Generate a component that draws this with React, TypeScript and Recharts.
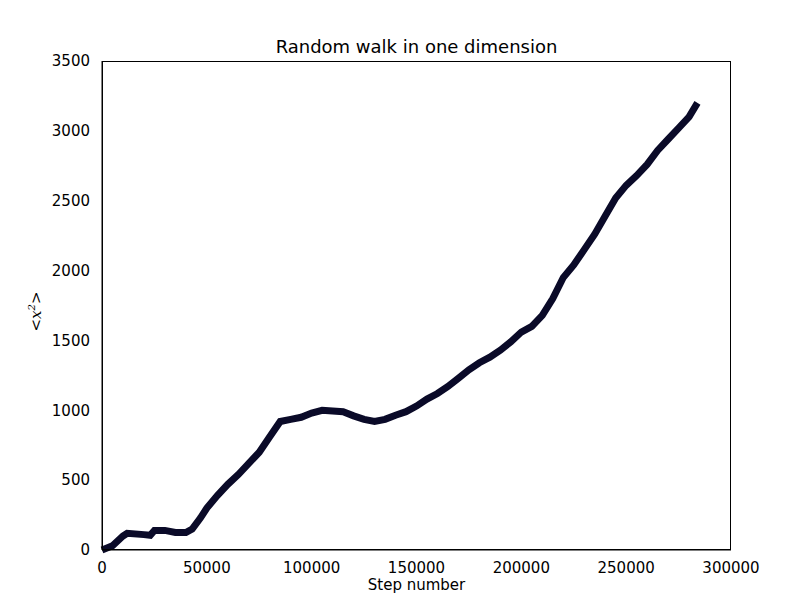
import { LineChart, Line, XAxis, YAxis } from "recharts";

const steps = [0, 5000, 10000, 12000, 20000, 23000, 25000, 30000, 35000, 40000, 43000, 47000, 50000, 55000, 60000, 65000, 70000, 75000, 80000, 85000, 90000, 95000, 100000, 105000, 110000, 115000, 120000, 125000, 130000, 135000, 140000, 145000, 150000, 155000, 160000, 165000, 170000, 175000, 180000, 185000, 190000, 195000, 200000, 205000, 210000, 215000, 220000, 225000, 230000, 235000, 240000, 245000, 250000, 255000, 260000, 265000, 270000, 275000, 280000, 284000];
const meanSq = [0, 30, 100, 120, 110, 105, 140, 140, 125, 125, 150, 230, 300, 390, 470, 540, 620, 700, 810, 920, 935, 950, 980, 1000, 995, 990, 960, 935, 920, 935, 965, 990, 1030, 1080, 1120, 1170, 1230, 1290, 1340, 1380, 1430, 1490, 1560, 1600, 1680, 1800, 1950, 2040, 2150, 2260, 2390, 2520, 2610, 2680, 2760, 2860, 2940, 3020, 3100, 3200];
const xTicks = [0, 50000, 100000, 150000, 200000, 250000, 300000];
const yTicks = [0, 500, 1000, 1500, 2000, 2500, 3000, 3500];

const data = steps.map((s, i) => ({ step: s, v: meanSq[i] }));
const font = { fontFamily: "DejaVu Sans", fontSize: 15, fill: "#000" };

export default function App() {
  return (
    <div style={{ position: "relative", width: 800, height: 600, background: "#fff" }}>
      <LineChart width={800} height={600} data={data} margin={{ top: 53, right: 77, bottom: 18, left: 0 }}>
        <XAxis dataKey="step" type="number" domain={[0, 300000]} ticks={xTicks} height={40}
          stroke="#000" tick={font} tickLine={false} tickMargin={6} />
        <YAxis type="number" domain={[0, 3500]} ticks={yTicks} width={94}
          stroke="#000" tick={font} tickLine={false} tickMargin={6} />
        <Line dataKey="v" stroke="#0a0a28" strokeWidth={7} dot={false} isAnimationActive={false} />
      </LineChart>
      <div style={{ position: "absolute", top: 53, left: 94, width: 629, height: 489, border: "1px solid #000", boxSizing: "border-box", pointerEvents: "none" }} />
      <div style={{ position: "absolute", top: 28, left: 94, width: 629, textAlign: "center", fontFamily: "DejaVu Sans", fontSize: 18 }}>
        Random walk in one dimension
      </div>
      <div style={{ position: "absolute", top: 568, left: 94, width: 629, textAlign: "center", fontFamily: "DejaVu Sans", fontSize: 15 }}>
        Step number
      </div>
      <div style={{ position: "absolute", top: 294, left: 8, transform: "rotate(-90deg)", fontFamily: "DejaVu Serif", fontStyle: "italic", fontSize: 15 }}>
        &lt;x<sup style={{ fontSize: 10 }}>2</sup>&gt;
      </div>
    </div>
  );
}
